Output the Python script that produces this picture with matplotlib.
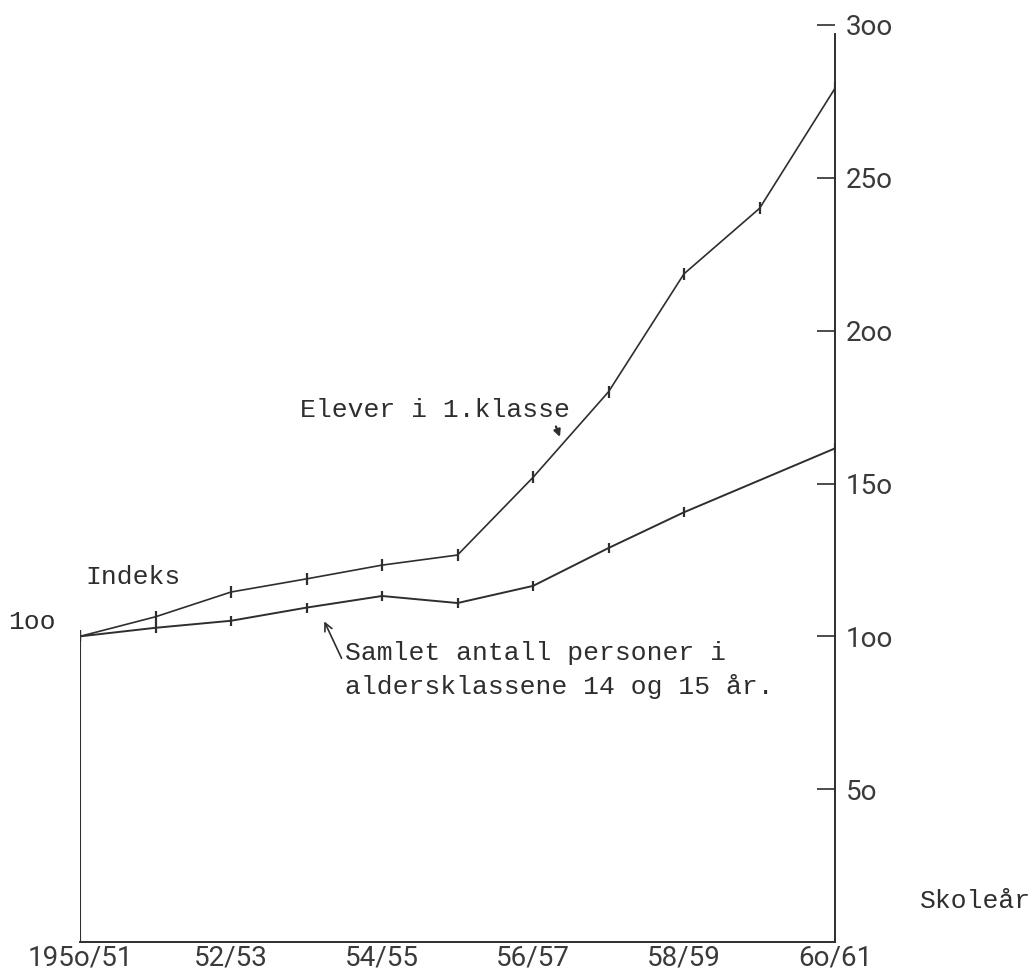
import matplotlib
matplotlib.use("Agg")
import matplotlib.pyplot as plt

# school years, index positions 0..10 = 1950/51 .. 1960/61
years_elever = [0, 1, 2, 3, 4, 5, 6, 7, 8, 9, 10]
elever = [100, 106.4, 114.5, 118.8, 123.3, 126.6, 152, 180, 218.6, 240, 279.3]

years_samlet = [0, 1, 2, 3, 4, 5, 6, 7, 8, 10]
samlet = [100, 102.8, 105.1, 109.4, 113.2, 110.9, 116.5, 128.9, 140.6, 161.5]

xtick_pos = [0, 2, 4, 6, 8, 10]
xtick_labels = ["195o/51", "52/53", "54/55", "56/57", "58/59", "6o/61"]
ytick_pos = [50, 100, 150, 200, 250, 300]
ytick_labels = ["5o", "1oo", "15o", "2oo", "25o", "3oo"]

ink = "#2e2e2e"
pencil = "#3a3a3a"
mono = "Liberation Mono"
hand = "Roboto"

fig = plt.figure(figsize=(10.35, 9.75), dpi=100)
ax = fig.add_axes([0.0773, 0.0338, 0.7295, 0.9406])
ax.set_xlim(0, 10)
ax.set_ylim(0, 300)

ax.plot(years_elever, elever, color=ink, lw=1.2, marker="|", ms=8, mew=1.6)
ax.plot(years_samlet, samlet, color=ink, lw=1.4, marker="|", ms=7, mew=1.6)

# left base line up to index 100
ax.vlines(years_elever[0], 0, elever[0], color=ink, lw=1.5)

for s in ["top", "left"]:
    ax.spines[s].set_visible(False)
ax.spines["right"].set_bounds(0, 297)
ax.spines["right"].set_color(ink)
ax.spines["right"].set_linewidth(1.4)
ax.spines["bottom"].set_color(ink)
ax.spines["bottom"].set_linewidth(1.4)

ax.set_xticks(xtick_pos)
ax.set_xticklabels(xtick_labels, fontfamily=hand, fontweight="normal",
                   fontsize=20, color=pencil)
ax.tick_params(axis="x", length=0, pad=2)

ax.yaxis.tick_right()
ax.set_yticks(ytick_pos)
ax.set_yticklabels(ytick_labels, fontfamily=hand, fontweight="normal",
                   fontsize=20, color=pencil)
ax.tick_params(axis="y", direction="in", length=13, width=1.2, color=ink, pad=8)

tkw = dict(fontfamily=mono, fontsize=19, color=ink, clip_on=False)
ax.text(2.91, 174, "Elever i 1.klasse", ha="left", va="center", **tkw)
ax.text(3.51, 94.5, "Samlet antall personer i", ha="left", va="center", **tkw)
ax.text(3.51, 83.7, "aldersklassene 14 og 15 år.", ha="left", va="center", **tkw)
ax.text(0.07, 119.4, "Indeks", ha="left", va="center", **tkw)
ax.text(-0.95, 104.7, "1oo", ha="left", va="center", **tkw)
ax.text(11.13, 13.4, "Skoleår", ha="left", va="center", **tkw)

ax.annotate("", xy=(6.37, 164.4), xytext=(6.29, 169.5),
            arrowprops=dict(arrowstyle="-|>", color=ink, lw=1.6,
                            mutation_scale=10))
ax.annotate("", xy=(3.22, 105.7), xytext=(3.48, 92),
            arrowprops=dict(arrowstyle="->", color=ink, lw=1.2,
                            mutation_scale=14))

fig.savefig("out.png", dpi=100)
